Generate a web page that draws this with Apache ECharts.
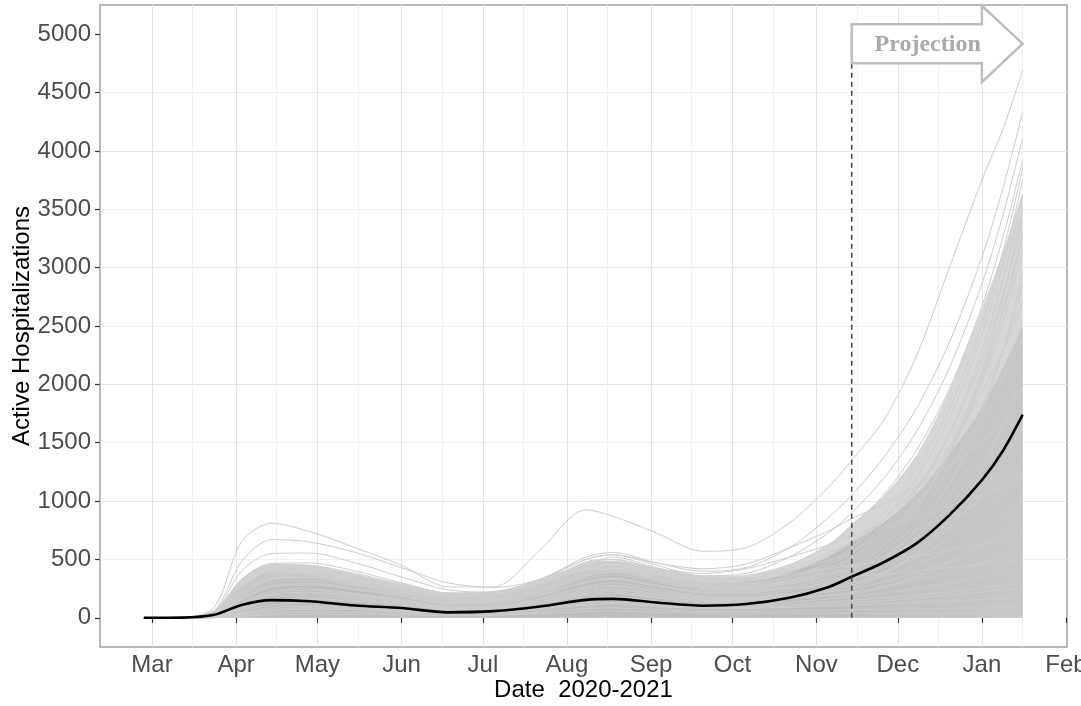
<!DOCTYPE html>
<html>
<head>
<meta charset="utf-8">
<script src="https://cdn.jsdelivr.net/npm/echarts@6/dist/echarts.min.js"></script>
<style>
  html, body { margin: 0; padding: 0; background: #ffffff; }
  #chart { width: 1081px; height: 706px; }
</style>
</head>
<body>
<div id="chart"></div>
<script>
// Sample dates shared by every simulated trajectory
const dates = ['2020-02-27','2020-03-12','2020-03-24','2020-04-03','2020-04-14','2020-04-28',
  '2020-05-15','2020-06-01','2020-06-18','2020-07-05','2020-07-22','2020-08-08','2020-08-18',
  '2020-09-03','2020-09-20','2020-10-06','2020-10-22','2020-11-05','2020-11-14','2020-11-26',
  '2020-12-08','2020-12-20','2021-01-01','2021-01-09','2021-01-16'];

// Median of all runs
const medianRun = [0, 2, 26, 110, 152, 142, 106, 84, 47, 57, 97, 154, 162, 131, 104, 118, 172, 260,
  352, 478, 640, 880, 1180, 1440, 1740];

// Where the runs are packed solid (core) and where they thin out (outer)
const denseCore = [0, 5, 55, 268, 385, 368, 300, 240, 183, 197, 280, 400, 410, 354, 300, 311, 385, 525,
  640, 820, 1060, 1400, 1800, 2150, 2500];
const denseOuter = [0, 8, 70, 330, 460, 450, 370, 290, 220, 230, 330, 470, 490, 420, 360, 370, 460, 620,
  800, 1050, 1400, 1950, 2650, 3150, 3650];

// Individual simulated runs
const simRuns = [
  [0,3,90,650,810,740,600,450,265,265,580,925,870,727,570,600,813,1110,1350,1700,2250,3000,3750,4200,4690],
  [0,2,60,480,670,650,560,430,300,260,330,520,560,470,400,430,600,850,1050,1380,1800,2360,3090,3700,4330],
  [0,2,50,400,550,555,470,350,240,220,320,500,540,450,360,380,520,720,900,1200,1600,2140,2860,3470,4110],
  [0,1,40,330,465,470,400,300,210,200,300,470,500,420,340,330,450,620,780,1060,1440,1960,2670,3280,3920],
  [0,1,35,300,440,445,370,275,190,185,280,450,480,400,320,300,390,520,650,910,1280,1790,2520,3160,3850],
  [0,1,30,270,415,425,350,260,180,180,270,440,520,430,340,290,350,470,600,850,1210,1710,2420,3060,3750],
  [0,0,25,250,395,405,335,250,175,170,260,420,470,390,310,270,330,420,520,750,1090,1570,2280,2920,3620],
  [0,1,28,240,380,390,320,240,165,165,250,400,440,370,300,280,350,450,560,790,1110,1570,2210,2780,3400],
  [0,0,22,220,360,375,310,230,160,160,240,390,430,360,290,260,320,400,480,690,980,1410,2010,2550,3150],
  [0,0,20,200,340,360,300,225,150,150,230,370,410,340,270,250,300,360,430,615,885,1265,1815,2310,2850],
  [0,0,18,190,330,350,290,215,145,145,220,360,400,330,260,240,290,340,400,570,810,1150,1640,2075,2550],
  [0,0,16,180,320,340,280,210,140,140,215,350,390,320,250,230,270,320,380,530,750,1050,1475,1850,2250],
  [0,0,14,170,300,320,270,200,130,130,205,335,370,305,240,220,255,300,360,500,690,960,1330,1650,2000],
  [0,0,12,150,260,280,240,180,115,120,190,300,330,270,210,200,230,280,330,440,590,785,1045,1270,1500],
  [0,0,10,130,230,250,210,160,100,105,170,270,300,245,190,180,210,255,300,395,515,680,890,1065,1250],
  [0,0,8,110,200,220,190,145,90,95,150,240,270,220,170,165,195,240,280,355,455,580,740,870,1000],
  [0,0,6,90,170,190,165,125,80,85,135,210,240,195,150,150,180,220,250,310,390,485,610,700,800],
  [0,0,5,70,140,160,140,110,70,75,120,185,210,170,130,130,160,195,220,265,325,390,470,535,600],
  [0,0,4,55,110,130,115,90,60,65,100,160,180,145,110,110,135,160,180,212,250,295,350,390,430],
  [0,0,3,40,85,100,90,70,50,55,85,135,150,120,95,95,115,135,150,171,195,223,255,278,300],
  [0,0,2,30,60,75,70,55,40,45,70,110,120,100,80,80,90,100,110,120,132,144,157,167,180],
  [0,0,1,20,40,50,48,40,30,32,50,80,85,70,55,55,60,65,70,75,77,81,85,88,90],
  [0,0,1,12,25,30,30,25,20,22,35,55,58,50,40,38,40,40,40,38,36,34,32,31,30],
  [0,1,30,260,400,410,340,260,185,190,290,480,500,420,350,340,420,550,650,850,1120,1465,1925,2300,2700],
  [0,1,40,320,455,450,380,290,210,220,330,500,540,470,420,460,600,740,850,975,1130,1310,1505,1660,1800],
  [0,1,35,290,430,430,360,270,200,210,300,450,470,420,380,420,520,620,700,780,860,955,1050,1125,1200],
  [0,0,20,210,350,370,300,225,155,150,230,380,415,345,280,255,310,380,450,660,965,1405,2050,2650,3300],
  [0,0,15,160,270,290,250,190,125,125,195,310,340,280,230,230,270,320,350,375,400,430,460,480,500],
  [0,1,25,220,360,380,320,240,170,170,260,420,450,380,320,320,370,420,450,490,530,580,630,665,700],
  [0,0,8,100,190,210,180,135,85,90,140,225,250,205,160,160,190,225,250,375,560,840,1265,1660,2100],
  [0,0,18,200,330,345,285,215,150,150,225,360,395,330,265,250,300,360,420,630,940,1410,2110,2760,3500],
  [0,1,24,235,370,380,315,235,165,160,245,400,440,365,300,290,350,430,500,715,1020,1455,2080,2640,3250],
  [0,0,12,160,280,300,250,190,120,125,195,310,340,280,220,215,250,290,330,500,760,1150,1750,2310,2950],
  [0,1,30,260,400,405,335,255,180,185,280,440,470,400,340,330,400,490,560,740,975,1290,1700,2045,2400],
  [0,0,9,120,215,235,200,150,95,100,160,255,280,230,180,175,205,245,280,390,550,770,1080,1355,1650],
  [0,0,20,210,340,355,290,220,155,155,235,375,410,340,280,270,320,380,420,525,655,820,1020,1185,1350],
  [0,0,5,80,150,170,150,115,75,80,125,200,225,180,140,140,165,190,200,265,355,470,630,760,900],
  [0,0,2,35,70,85,78,62,45,50,78,120,132,110,88,88,100,118,130,148,170,194,221,240,260]
];

// Start of the projection period
const projectionStart = '2020-11-14';
const projectionLineTop = 4752;

// Block arrow labelled "Projection": anchor dates and values
const arrowDates = { left: '2020-11-14', neck: '2021-01-01', tip: '2021-01-16', text: '2020-12-12' };
const arrowValues = { bodyTop: 5086, bodyBottom: 4752, headTop: 5242, headBottom: 4589, mid: 4919 };
const arrowText = 'Projection';

// Axis breaks
const monthStarts = ['2020-03-01','2020-04-01','2020-05-01','2020-06-01','2020-07-01','2020-08-01',
  '2020-09-01','2020-10-01','2020-11-01','2020-12-01','2021-01-01','2021-02-01'];
const monthMids = ['2020-03-16','2020-04-16','2020-05-16','2020-06-16','2020-07-16','2020-08-16',
  '2020-09-16','2020-10-16','2020-11-16','2020-12-16','2021-01-16'];
const yBreaks = [0, 500, 1000, 1500, 2000, 2500, 3000, 3500, 4000, 4500, 5000];
const monthNames = ['Jan','Feb','Mar','Apr','May','Jun','Jul','Aug','Sep','Oct','Nov','Dec'];

// Dates are plotted as millisecond timestamps on a linear axis
const ts = s => { const p = s.split('-').map(Number); return new Date(p[0], p[1] - 1, p[2]).getTime(); };
const HOUR = 3600 * 1000;
const xs = dates.map(ts);
const pair = vals => vals.map((v, i) => [xs[i], v]);

const FONT = 'Liberation Sans';
const chart = echarts.init(document.getElementById('chart'), null, { renderer: 'canvas' });

const gridLines = monthStarts.slice(0, -1).map(d => ({ xAxis: ts(d), lineStyle: { color: '#e4e4e4', width: 1, type: 'solid' } }))
  .concat(monthMids.map(d => ({ xAxis: ts(d), lineStyle: { color: '#f1f1f1', width: 1, type: 'solid' } })));

const series = [];

// vertical grid lines (major at month starts, minor mid-month), kept beneath the runs
series.push({
  type: 'line', data: [[xs[0], 0]], symbol: 'none', lineStyle: { opacity: 0 }, silent: true, z: 0,
  markLine: { z: 0, silent: true, symbol: ['none', 'none'], label: { show: false }, animation: false, data: gridLines }
});

series.push({
  type: 'line', data: pair(denseOuter), symbol: 'none', smooth: 0.3, silent: true, z: 1,
  lineStyle: { width: 0 }, areaStyle: { color: '#d6d6d6', opacity: 1 }
});
series.push({
  type: 'line', data: pair(denseCore), symbol: 'none', smooth: 0.3, silent: true, z: 1,
  lineStyle: { width: 0 },
  areaStyle: { opacity: 1, color: { type: 'linear', x: 0, y: 0, x2: 1, y2: 0, colorStops: [
    { offset: 0, color: '#bdbdbd' }, { offset: 0.8, color: '#bfbfbf' },
    { offset: 0.88, color: '#c4c4c4' }, { offset: 1, color: '#c7c7c7' } ] } }
});

simRuns.forEach(run => {
  series.push({
    type: 'line', data: pair(run), symbol: 'none', smooth: 0.3, silent: true, z: 2,
    lineStyle: { color: '#cdcdcd', width: 1 }
  });
});

series.push({
  type: 'line', data: pair(medianRun), symbol: 'none', smooth: 0.3, silent: true, z: 3,
  lineStyle: { color: '#000000', width: 2.6 }
});

series.push({
  type: 'line', data: [[ts(projectionStart), 0], [ts(projectionStart), projectionLineTop]],
  symbol: 'none', silent: true, z: 4,
  lineStyle: { color: '#4a4a4a', width: 1.6, type: [5, 4] }
});

series.push({
  type: 'custom', silent: true, z: 5, clip: false,
  data: [[ts(arrowDates.left), arrowValues.mid]],
  renderItem: (params, api) => {
    const xl = ts(arrowDates.left), xn = ts(arrowDates.neck), xt = ts(arrowDates.tip);
    const v = arrowValues;
    const pts = [
      [xl, v.bodyTop], [xn, v.bodyTop], [xn, v.headTop], [xt, v.mid],
      [xn, v.headBottom], [xn, v.bodyBottom], [xl, v.bodyBottom]
    ].map(p => api.coord(p));
    const tp = api.coord([ts(arrowDates.text), v.mid]);
    return {
      type: 'group',
      children: [
        { type: 'polygon', shape: { points: pts },
          style: { fill: '#ffffff', stroke: '#bdbdbd', lineWidth: 2.5, lineJoin: 'miter' } },
        { type: 'text', x: tp[0], y: tp[1] + 1,
          style: { text: arrowText, align: 'center', verticalAlign: 'middle',
            font: 'bold 24px "Liberation Serif", "DejaVu Serif", serif', fill: '#a9a9a9' } }
      ]
    };
  }
});

chart.setOption({
  animation: false,
  backgroundColor: '#ffffff',
  grid: { left: 100, right: 14, top: 5, bottom: 59, show: true, borderColor: '#a3a3a3', borderWidth: 1.5,
          backgroundColor: 'transparent', containLabel: false, outerBoundsMode: 'none' },
  xAxis: {
    type: 'value',
    min: ts('2020-02-10') + 20 * HOUR,
    max: ts('2021-02-01') + 9 * HOUR,
    axisLine: { show: false },
    splitLine: { show: false },
    axisTick: { show: true, customValues: monthStarts.map(ts), length: 5, lineStyle: { color: '#333333', width: 1.2 } },
    axisLabel: { customValues: monthStarts.map(ts), formatter: v => monthNames[new Date(v).getMonth()],
                 color: '#4d4d4d', fontSize: 24, fontFamily: FONT, margin: 6, hideOverlap: false },
    name: 'Date  2020-2021', nameLocation: 'middle', nameGap: 31, nameMoveOverlap: false,
    nameTextStyle: { color: '#000000', fontSize: 24, fontFamily: FONT }
  },
  yAxis: {
    type: 'value', min: -250, max: 5250, interval: 250,
    axisLine: { show: false },
    axisTick: { show: true, customValues: yBreaks, length: 5, lineStyle: { color: '#333333', width: 1.2 } },
    axisLabel: { customValues: yBreaks, color: '#4d4d4d', fontSize: 24, fontFamily: FONT, margin: 9,
                 formatter: v => (v >= 0 && v % 500 === 0) ? String(v) : '' },
    splitLine: { show: true, showMinLine: false, showMaxLine: false,
                 lineStyle: { color: ['#f1f1f1', '#e4e4e4'], width: 1 } },
    name: 'Active Hospitalizations', nameLocation: 'middle', nameGap: 66, nameMoveOverlap: false,
    nameTextStyle: { color: '#000000', fontSize: 24, fontFamily: FONT }
  },
  series: series
});
</script>
</body>
</html>
